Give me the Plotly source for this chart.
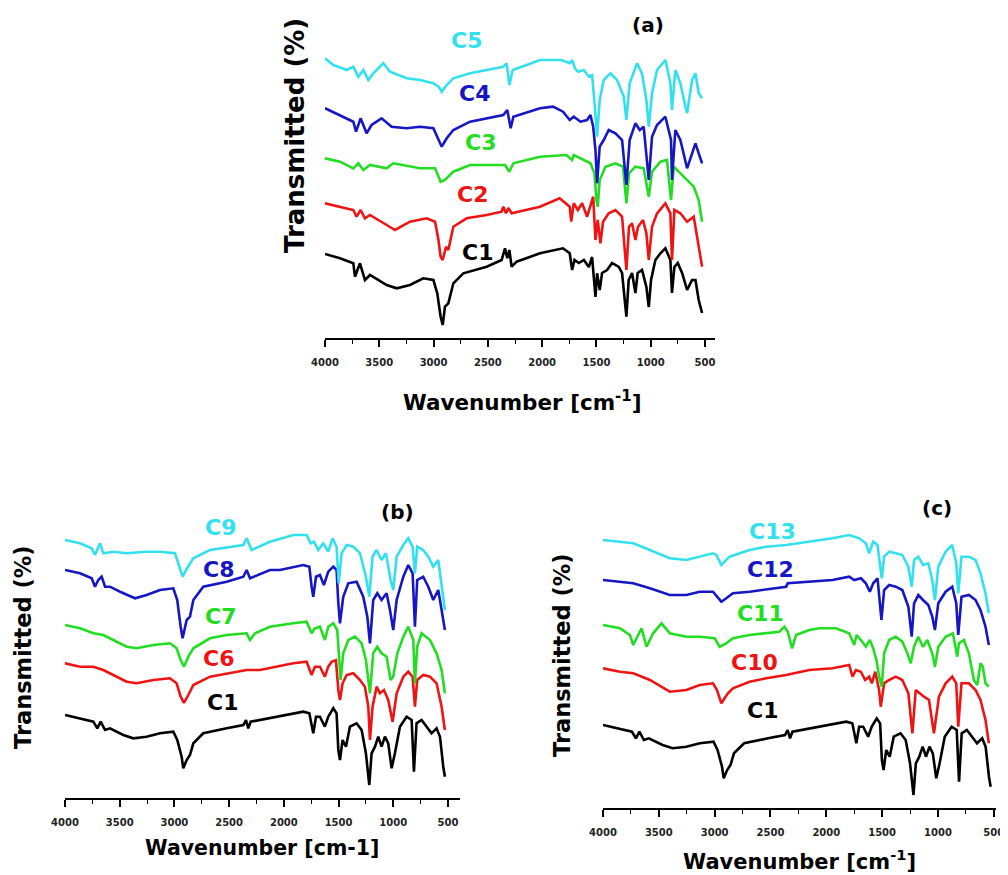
import plotly.graph_objects as go

# ---------------- data (wavenumber in cm-1, transmittance in a.u., stacked) -------------
# Panel (a)
A_C1_WN = [4000,3862,3739,3724,3678,3632,3586,3432,3340,3217,3095,3002,2966,2935,2916,2895,2864,2818,2726,2511,2373,2342,2321,2302,2281,2235,2020,1808,1746,1724,1702,1662,1616,1570,1540,1509,1494,1470,1448,1402,1356,1294,1264,1224,1203,1172,1141,1120,1080,1040,1018,997,957,911,865,819,804,782,751,711,665,619,588,558,527]
A_C1_T = [84,79.7,74.7,61.3,74.7,58,63,53,49.7,53,59.7,58,44.7,21.3,13,31.3,34.7,54.7,64.7,71.3,78,89.7,79.7,88,71.3,76.3,84.7,89.7,84.7,68,78,75,78,71,81,41,64.7,48,65,68,75,71,65,21.3,58,65,45,65,68,51,31,58,78,84.7,89.7,78,45,71,75,65,48,58,58,38,25]

A_C2_WN = [4000,3862,3739,3709,3672,3632,3586,3432,3355,3217,3064,2986,2955,2935,2916,2885,2864,2818,2695,2511,2373,2358,2333,2311,2281,2020,1839,1746,1732,1709,1671,1632,1586,1530,1509,1488,1463,1439,1387,1325,1264,1224,1200,1172,1141,1117,1071,1040,1018,988,942,865,819,804,782,727,665,604,567,527]
A_C2_T = [134.7,131.3,128,121.3,128,119.7,123,113,108,116.3,119.7,116.3,98,81.3,78,91.3,88,111.3,119.7,123,126.3,131.3,124.7,130,124.7,131.3,139.7,131.3,116.3,134.7,128,134.7,121.3,141.3,98,118,94.7,116.3,124.7,128,121.3,68,111.3,114.7,98,111.3,118,104.7,78,111.3,124.7,134.7,124.7,78,128,124.7,116.3,121.3,98,71.3]

A_C3_WN = [4000,3862,3739,3693,3647,3586,3432,3371,3125,2986,2935,2895,2818,2664,2342,2302,2265,2020,1777,1724,1709,1616,1555,1518,1500,1488,1470,1417,1325,1255,1224,1200,1141,1065,1018,988,911,850,813,788,727,665,604,558,527]
A_C3_T = [179.7,176.3,169.7,174.7,168,173,169.7,174.7,169.7,169.7,156.3,158,166.3,173,173,166.3,174.7,181.3,183,178,183,178,174.7,164.7,138,131.3,158,171.3,174.7,171.3,134.7,164.7,171.3,169.7,141.3,166.3,176.3,178,138,171.3,164.7,158,151.3,138,116.3]

A_C4_WN = [4000,3862,3739,3714,3672,3617,3571,3479,3386,3248,3125,3002,2955,2925,2879,2818,2664,2358,2321,2290,2265,2020,1900,1808,1746,1709,1647,1586,1555,1530,1509,1494,1470,1433,1387,1325,1264,1224,1194,1141,1101,1065,1018,988,942,865,813,804,773,727,665,619,588,558,527]
A_C4_T = [229.7,223,216.3,206.3,219.7,204.7,213,219.7,211.3,209.7,211.3,209.7,198,191.3,199.7,208,216.3,223,228,209.7,221.3,229.7,231.3,226.3,218,221.3,216.3,218,223,211.3,188,154.7,191.3,198,208,204.7,198,153,198,214.7,208,211.3,158,201.3,213,221.3,198,158,208,198,169.7,184.7,194.7,184.7,174.7]

A_C5_WN = [4000,3923,3800,3739,3693,3647,3601,3555,3463,3401,3248,3125,3002,2955,2925,2879,2818,2664,2358,2327,2302,2271,2143,2020,1823,1746,1721,1699,1668,1616,1570,1540,1515,1494,1470,1433,1371,1310,1248,1224,1194,1126,1080,1040,1018,988,942,865,819,804,773,727,680,665,619,588,558,527]
A_C5_T = [279.7,273,268,271.3,261.3,268,258,264.7,274.7,266.3,259.7,258,254.7,251.3,246.3,253,259.7,264.7,271.3,274.7,253,268,273,278,278,274.7,278,269.7,266.3,268,261.3,263,231.3,201.3,238,258,264.7,258,241.3,218,254.7,274.7,264.7,238,211.3,244.7,268,278,254.7,228,268,254.7,231.3,224.7,258,264.7,244.7,239.7]

# C1 as drawn in panels (b) and (c)
BC_C1_WN = [4000,3863,3741,3705,3674,3634,3589,3467,3376,3254,3132,3010,2974,2934,2919,2888,2858,2827,2736,2522,2370,2346,2325,2303,2218,1822,1767,1746,1731,1706,1670,1625,1594,1548,1518,1502,1487,1463,1432,1396,1335,1289,1250,1219,1198,1167,1137,1107,1076,1046,1015,985,939,878,832,811,787,741,695,650,604,573,543,528]
BC_C1_T = [83,79.7,76.3,69.7,76.3,68,69.7,63,59.7,61.3,64.7,66.3,58,41.3,29.7,38,43,54.7,64.7,69.7,73,78,69.7,76.3,78,86.3,84.7,71.3,64.7,81.3,81.3,71.3,81.3,89.7,84.7,48,38,58,51.3,71.3,74.7,68,44.7,13,44.7,51.3,61.3,51.3,61.3,54.7,29.7,44.7,71.3,81.3,78,26.3,74.7,78,71.3,64.7,69.7,61.3,31.3,21.3]

# Panel (b)
B_C6_WN = [4000,3863,3741,3650,3559,3436,3345,3193,3041,2980,2943,2913,2873,2827,2675,2522,2340,2218,1914,1792,1746,1716,1670,1625,1594,1563,1524,1502,1487,1463,1426,1365,1304,1259,1228,1213,1189,1152,1122,1085,1046,1006,969,908,863,823,802,781,726,665,604,558,528]
B_C6_T = [134.7,131.3,131.3,128,123,116.3,114.7,118,119.7,114.7,101.3,95,103,113,121.3,124.7,128,128,134.7,136.3,123,131.3,131.3,121.3,131.3,136.3,138,108,98,114.7,123,124.7,118,111.3,91.3,58,91.3,111.3,104.7,108,98,76.3,104.7,121.3,126.3,121.3,91.3,118,123,121.3,114.7,91.3,68]

B_C7_WN = [4000,3863,3741,3650,3559,3436,3345,3193,3041,2980,2943,2913,2873,2827,2675,2522,2340,2309,2264,2127,1914,1792,1746,1716,1670,1625,1594,1548,1512,1493,1481,1457,1411,1350,1289,1250,1213,1183,1146,1107,1061,1024,1000,963,908,863,817,802,781,741,665,604,558,528]
B_C7_T = [173,169.7,164.7,163,158,151.3,149.7,153,154.7,149.7,138,131.3,141.3,149.7,159.7,163,164.7,158,164.7,171.3,174.7,176.3,164.7,169.7,171.3,158,171.3,174.7,168,138,118,144.7,158,161.3,154.7,138,104.7,144.7,151.3,144.7,141.3,118,121.3,144.7,161.3,171.3,158,114.7,151.3,164.7,158,144.7,128,104.7]

B_C8_WN = [4000,3863,3756,3726,3696,3665,3634,3589,3497,3360,3254,3132,3010,2974,2943,2925,2888,2858,2827,2736,2522,2370,2340,2309,2127,2036,1822,1767,1746,1731,1706,1670,1634,1594,1548,1518,1502,1487,1457,1411,1335,1274,1237,1213,1183,1146,1107,1061,1030,1000,969,908,863,823,802,781,726,680,634,589,558,528]
B_C8_T = [228,224.7,219.7,211.3,218,221.3,211.3,211.3,206.3,199.7,203,208,209.7,198,171.3,159.7,178,181.3,198,211.3,216.3,221.3,228,219.7,228,228,233,231.3,211.3,201.3,221.3,223,213,226.3,231.3,228,194.7,174.7,201.3,214.7,216.3,201.3,181.3,154.7,198,204.7,198,204.7,188,168,198,221.3,233,224.7,171.3,218,221.3,211.3,198,208,188,168]

B_C9_WN = [4000,3863,3756,3726,3680,3650,3559,3436,3254,3132,2995,2956,2925,2894,2827,2675,2370,2340,2294,2127,1914,1792,1755,1725,1685,1640,1594,1554,1518,1499,1472,1426,1365,1304,1250,1219,1189,1152,1107,1067,1024,1000,969,908,863,823,802,781,726,680,634,589,558,528]
B_C9_T = [258,254.7,249.7,243,254.7,244.7,246.3,244.7,246.3,246.3,244.7,231.3,221.3,228,239.7,248,253,259.7,248,256.3,263,263,254.7,256.3,248,254.7,246.3,259.7,251.3,214.7,244.7,253,251.3,244.7,221.3,201.3,241.3,248,238,244.7,218,208,241.3,253,259.7,251.3,224.7,251.3,248,241.3,231.3,238,211.3,188]

# Panel (c)
C_C10_WN = [4000,3848,3729,3580,3402,3253,3134,3015,2979,2940,2911,2881,2836,2687,2538,2360,2152,1944,1795,1765,1735,1690,1652,1616,1592,1562,1527,1512,1482,1437,1378,1319,1265,1229,1199,1164,1125,1080,1036,991,931,872,836,818,789,723,663,619,574,544]
C_C10_T = [139.7,136.3,134.7,128,116.3,118,123,124.7,118,104.7,109.7,114.7,119.7,126.3,129.7,133,138,139.7,143,131.3,138,136.3,128,131.3,124.7,136.3,118,101.3,124.7,128,131.3,128,114.7,74.7,118,114.7,111.3,108,74.7,111.3,124.7,131.3,124.7,81.3,124.7,124.7,118,108,88,64.7]

C_C11_WN = [4000,3848,3759,3729,3685,3655,3610,3551,3476,3402,3253,3134,3000,2955,2896,2836,2687,2420,2375,2345,2306,2271,2152,2063,1914,1795,1750,1729,1690,1646,1610,1580,1551,1527,1503,1482,1437,1378,1319,1274,1244,1214,1176,1134,1095,1051,1027,997,931,866,827,812,768,723,678,648,619,598,574,544]
C_C11_T = [183,179.7,173,163,173,179.7,161.3,174.7,184.7,174.7,171.3,171.3,169.7,161.3,164.7,169.7,173,176.3,181.3,176.3,159.7,173,178,179.7,179.7,174.7,163,173,168,161.3,168,159.7,148,131.3,121.3,154.7,168,171.3,166.3,154.7,144.7,161.3,171.3,161.3,168,154.7,141.3,161.3,171.3,174.7,151.3,164.7,168,154.7,128,123,144.7,141.3,124.7,121.3]

C_C12_WN = [4000,3848,3729,3580,3402,3253,3134,3015,2979,2940,2896,2836,2687,2360,2345,2152,1944,1795,1750,1690,1646,1610,1580,1541,1521,1506,1482,1437,1378,1319,1265,1235,1214,1176,1134,1086,1051,1027,997,931,872,836,818,789,723,663,619,574,544]
C_C12_T = [228,226.3,224.7,219.7,213,213,216.3,216.3,211.3,206.3,209.7,214.7,216.3,221.3,224.7,226.3,228,231.3,228,229.7,224.7,216.3,224.7,229.7,204.7,188,218,223,221.3,218,201.3,171.3,204.7,213,208,203,191.3,178,204.7,216.3,221.3,204.7,173,211.3,213,208,198,181.3,163]

C_C13_WN = [4000,3848,3729,3580,3402,3253,3134,3015,2985,2940,2911,2866,2687,2538,2360,2152,1944,1795,1705,1646,1616,1580,1541,1521,1503,1482,1437,1378,1319,1265,1235,1214,1176,1134,1086,1051,1027,997,931,872,836,818,789,723,663,619,574,544]
C_C13_T = [268,266.3,264.7,258,249.7,248,251.3,254.7,253,243,246.3,251.3,258,261.3,263,266.3,269.7,273,269.7,264.7,254.7,266.3,263,244.7,229.7,251.3,256.3,254.7,253,241.3,221.3,248,251.3,243,244.7,228,208,241.3,256.3,263,244.7,214.7,251.3,251.3,248,234.7,214.7,194.7]

TICK_VALS = [4000, 3500, 3000, 2500, 2000, 1500, 1000, 500]
TICK_TEXT = ["4000", "3500", "3000", "2500", "2000", "1500", "1000", "500"]
MINOR_VALS = [3750, 3250, 2750, 2250, 1750, 1250, 750]

# ---------------- styling -------------
CYAN, BLUE, GREEN, RED, BLACK = "#33E1EE", "#1616C4", "#22DD22", "#EE1414", "#000000"
FONT = "DejaVu Sans"
FW, FH = 1008, 875
BODY = 8                      # default page margin in front of the plot div

def px_x(x):
    return (x - BODY) / FW

def px_y(y):
    return 1 - (y - BODY) / FH

fig = go.Figure()

panels = [
    ("x", "y", [(A_C1_WN, A_C1_T, BLACK, "C1"), (A_C2_WN, A_C2_T, RED, "C2"), (A_C3_WN, A_C3_T, GREEN, "C3"),
                (A_C4_WN, A_C4_T, BLUE, "C4"), (A_C5_WN, A_C5_T, CYAN, "C5")]),
    ("x2", "y2", [(BC_C1_WN, BC_C1_T, BLACK, "C1"), (B_C6_WN, B_C6_T, RED, "C6"), (B_C7_WN, B_C7_T, GREEN, "C7"),
                  (B_C8_WN, B_C8_T, BLUE, "C8"), (B_C9_WN, B_C9_T, CYAN, "C9")]),
    ("x3", "y3", [(BC_C1_WN, BC_C1_T, BLACK, "C1"), (C_C10_WN, C_C10_T, RED, "C10"), (C_C11_WN, C_C11_T, GREEN, "C11"),
                  (C_C12_WN, C_C12_T, BLUE, "C12"), (C_C13_WN, C_C13_T, CYAN, "C13")]),
]
for xa, ya, series in panels:
    for wn, t, col, name in series:
        fig.add_trace(go.Scatter(x=wn, y=t, mode="lines", name=name, xaxis=xa, yaxis=ya,
                                 line=dict(color=col, width=2.6), showlegend=False, hoverinfo="skip"))

def xaxis(domain, rng, anchor):
    return dict(domain=domain, range=rng, autorange=False, anchor=anchor, automargin=False,
                showline=True, linecolor="black", linewidth=1.6,
                ticks="outside", ticklen=7, tickwidth=1.6, tickcolor="black",
                tickvals=TICK_VALS, ticktext=TICK_TEXT, ticklabelstandoff=7,
                tickfont=dict(family=FONT, size=10, color="#222", weight="bold"),
                minor=dict(tickvals=MINOR_VALS, ticks="outside", ticklen=4, tickwidth=1.4, tickcolor="black"),
                showgrid=False, zeroline=False, fixedrange=True)

def yaxis(domain, rng, anchor):
    return dict(domain=domain, range=rng, autorange=False, anchor=anchor, visible=False,
                automargin=False, fixedrange=True)

fig.update_layout(
    width=FW, height=FH, margin=dict(l=0, r=0, t=0, b=0, autoexpand=False),
    paper_bgcolor="white", plot_bgcolor="white",
    xaxis=xaxis([px_x(325), px_x(715)], [4000, 408], "y"),
    yaxis=yaxis([px_y(338), px_y(38)], [0, 300], "x"),
    xaxis2=xaxis([px_x(65), px_x(460)], [4000, 390], "y2"),
    yaxis2=yaxis([px_y(798), px_y(528)], [0, 270], "x2"),
    xaxis3=xaxis([px_x(603), px_x(996)], [4000, 480], "y3"),
    yaxis3=yaxis([px_y(808), px_y(528)], [0, 280], "x3"),
)

def label(text, x, y, color="black", size=22, angle=0):
    fig.add_annotation(text="<b>%s</b>" % text, x=px_x(x), y=px_y(y), xref="paper", yref="paper",
                       showarrow=False, xanchor="center", yanchor="middle", textangle=angle,
                       font=dict(family=FONT, size=size, color=color))

# panel (a)
label("C5", 466, 40, CYAN)
label("C4", 474, 93, BLUE)
label("C3", 480, 142, GREEN)
label("C2", 472, 194, RED)
label("C1", 477, 252, BLACK)
label("(a)", 648, 25, size=20)
label("Transmitted (%)", 295, 136, size=26, angle=-90)
label("Wavenumber [cm<sup>-1</sup>]", 522, 401, size=21.5)

# panel (b)
label("C9", 220, 527, CYAN)
label("C8", 218, 569, BLUE)
label("C7", 220, 616, GREEN)
label("C6", 218, 658, RED)
label("C1", 222, 702, BLACK)
label("(b)", 397, 512, size=20)
label("Transmitted (%)", 23, 647, size=22.5, angle=-90)
label("Wavenumber [cm-1]", 262, 848, size=20.5)

# panel (c)
label("C13", 772, 531, CYAN)
label("C12", 770, 569, BLUE)
label("C11", 760, 613, GREEN)
label("C10", 754, 662, RED)
label("C1", 762, 710, BLACK)
label("(c)", 937, 508, size=20)
label("Transmitted (%)", 562, 655, size=22.5, angle=-90)
label("Wavenumber [cm<sup>-1</sup>]", 799, 860, size=21)

fig.write_html("out.html")
